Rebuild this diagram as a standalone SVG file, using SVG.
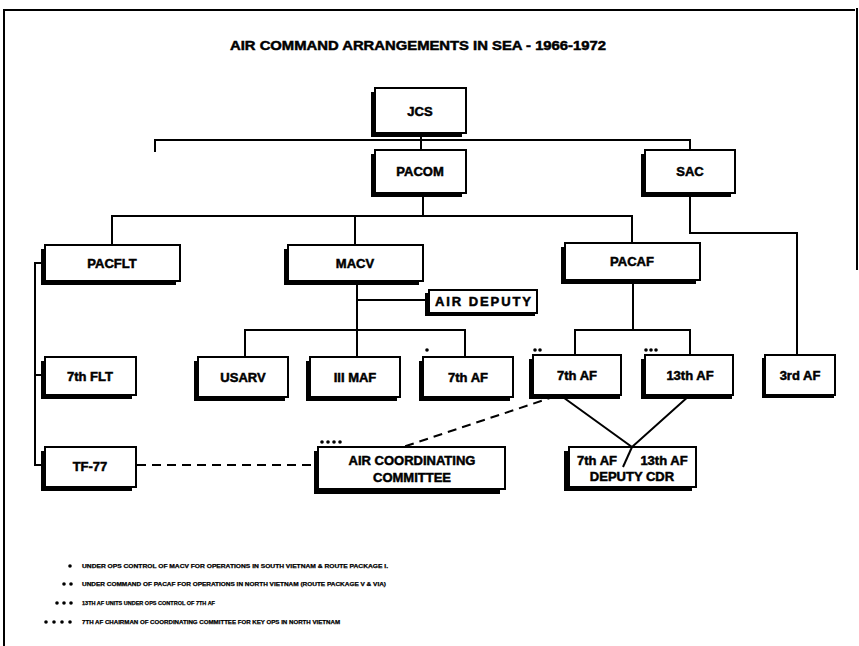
<svg xmlns="http://www.w3.org/2000/svg" width="859" height="646" viewBox="0 0 859 646">
<defs>
<style>
.sh{fill:#000}
.bx{fill:#fff;stroke:#000;stroke-width:2}
.t{font-family:"Liberation Sans",Arial,sans-serif;font-weight:bold;font-size:13px;fill:#000;stroke:#000;stroke-width:0.5;text-anchor:middle}
.ln{fill:none;stroke:#000;stroke-width:2}
.dl{fill:none;stroke:#000;stroke-width:2;stroke-dasharray:9,6}
.fn{font-family:"Liberation Sans",Arial,sans-serif;font-weight:bold;font-size:5.5px;fill:#000;stroke:#000;stroke-width:0.25}
.dot{fill:#000}
</style>
</defs>
<rect width="859" height="646" fill="#fff"/>
<g id="frame" fill="none" stroke="#000">
<path d="M4 646 V10 H855" stroke-width="2"/>
<path d="M857 8 V270" stroke-width="2"/>
</g>
<text x="418" y="50" class="t" font-size="14" textLength="376" lengthAdjust="spacingAndGlyphs">AIR COMMAND ARRANGEMENTS IN SEA - 1966-1972</text>

<g id="connectors">
<path class="ln" d="M421 133 V150"/>
<path class="ln" d="M155 152 V140 H690 V150"/>
<path class="ln" d="M423 193 V216"/>
<path class="ln" d="M112 245 V216 H632 V243"/>
<path class="ln" d="M355 216 V245"/>
<path class="ln" d="M690 193 V233 H797 V355"/>
<path class="ln" d="M45 263 H35 V465 H45"/>
<path class="ln" d="M35 375 H45"/>
<path class="ln" d="M357 280 V330"/>
<path class="ln" d="M357 300 H428"/>
<path class="ln" d="M245 357 V330 H465 V357"/>
<path class="ln" d="M357 330 V357"/>
<path class="ln" d="M633 280 V330"/>
<path class="ln" d="M575 355 V330 H690 V355"/>
<path class="ln" d="M560 395 L632 447 L690 395"/>
<path class="dl" d="M556 396 L400 448"/>
<path class="dl" d="M137 465 H316"/>
</g>

<g id="jcs"><rect class="sh" x="371" y="92" width="91" height="45"/><rect class="bx" x="375" y="88" width="91" height="45"/><text class="t" x="420" y="116">JCS</text></g>
<g id="pacom"><rect class="sh" x="371" y="154" width="91" height="43"/><rect class="bx" x="375" y="150" width="91" height="43"/><text class="t" x="420" y="176">PACOM</text></g>
<g id="sac"><rect class="sh" x="641" y="154" width="90" height="43"/><rect class="bx" x="645" y="150" width="90" height="43"/><text class="t" x="690" y="176">SAC</text></g>
<g id="pacflt"><rect class="sh" x="41" y="249" width="135" height="36"/><rect class="bx" x="45" y="245" width="135" height="36"/><text class="t" x="112" y="268">PACFLT</text></g>
<g id="macv"><rect class="sh" x="284" y="249" width="135" height="36"/><rect class="bx" x="288" y="245" width="135" height="36"/><text class="t" x="355" y="268">MACV</text></g>
<g id="pacaf"><rect class="sh" x="561" y="247" width="135" height="37"/><rect class="bx" x="565" y="243" width="135" height="37"/><text class="t" x="632" y="266">PACAF</text></g>
<g id="airdeputy"><rect class="sh" x="425" y="293" width="110" height="23"/><rect class="bx" x="429" y="290" width="108" height="23"/><text class="t" x="483" y="306" textLength="96" lengthAdjust="spacing">AIR  DEPUTY</text></g>
<g id="7thflt"><rect class="sh" x="41" y="361" width="91" height="38"/><rect class="bx" x="45" y="357" width="91" height="38"/><text class="t" x="90" y="381">7th  FLT</text></g>
<g id="usarv"><rect class="sh" x="194" y="361" width="91" height="40"/><rect class="bx" x="198" y="357" width="90" height="40"/><text class="t" x="243" y="382">USARV</text></g>
<g id="iiimaf"><rect class="sh" x="306" y="361" width="91" height="40"/><rect class="bx" x="310" y="357" width="90" height="40"/><text class="t" x="355" y="382">III MAF</text></g>
<g id="7thaf-macv"><rect class="sh" x="419" y="361" width="91" height="40"/><rect class="bx" x="423" y="357" width="90" height="40"/><text class="t" x="468" y="382">7th AF</text><circle class="dot" cx="427" cy="350" r="1.8"/></g>
<g id="7thaf-pacaf"><rect class="sh" x="529" y="359" width="91" height="40"/><rect class="bx" x="533" y="355" width="88" height="40"/><text class="t" x="577" y="380">7th AF</text><circle class="dot" cx="535" cy="350" r="1.8"/><circle class="dot" cx="540" cy="350" r="1.8"/></g>
<g id="13thaf"><rect class="sh" x="641" y="359" width="91" height="40"/><rect class="bx" x="645" y="355" width="88" height="40"/><text class="t" x="690" y="380">13th AF</text><circle class="dot" cx="646" cy="350" r="1.8"/><circle class="dot" cx="651" cy="350" r="1.8"/><circle class="dot" cx="656" cy="350" r="1.8"/></g>
<g id="3rdaf"><rect class="sh" x="762" y="358" width="72" height="40"/><rect class="bx" x="765" y="355" width="70" height="40"/><text class="t" x="800" y="380">3rd AF</text></g>
<g id="tf77"><rect class="sh" x="41" y="451" width="91" height="40"/><rect class="bx" x="45" y="447" width="91" height="40"/><text class="t" x="90" y="471">TF-77</text></g>
<g id="acc"><rect class="sh" x="314" y="451" width="186" height="43"/><rect class="bx" x="318" y="447" width="187" height="42"/><text class="t" x="412" y="465" font-size="14">AIR COORDINATING</text><text class="t" x="412" y="482" font-size="14">COMMITTEE</text><circle class="dot" cx="322" cy="442" r="1.8"/><circle class="dot" cx="328" cy="442" r="1.8"/><circle class="dot" cx="334" cy="442" r="1.8"/><circle class="dot" cx="340" cy="442" r="1.8"/></g>
<g id="deputycdr"><rect class="sh" x="564" y="451" width="128" height="40"/><rect class="bx" x="569" y="447" width="127" height="40"/><text class="t" x="597" y="465" font-size="14">7th AF</text><text class="t" x="664" y="465" font-size="14">13th AF</text><text class="t" x="632" y="481" font-size="14">DEPUTY CDR</text><path class="ln" d="M632 447 L623 467"/></g>

<g id="notes">
<circle class="dot" cx="70" cy="566" r="1.8"/>
<text class="fn" x="82" y="568" textLength="306" lengthAdjust="spacingAndGlyphs">UNDER OPS CONTROL OF MACV FOR OPERATIONS IN SOUTH VIETNAM &amp; ROUTE PACKAGE I.</text>
<circle class="dot" cx="64" cy="584" r="1.8"/><circle class="dot" cx="71" cy="584" r="1.8"/>
<text class="fn" x="82" y="586" textLength="304" lengthAdjust="spacingAndGlyphs">UNDER COMMAND OF PACAF FOR OPERATIONS IN NORTH VIETNAM (ROUTE PACKAGE V &amp; VIA)</text>
<circle class="dot" cx="57" cy="603" r="1.8"/><circle class="dot" cx="64" cy="603" r="1.8"/><circle class="dot" cx="71" cy="603" r="1.8"/>
<text class="fn" x="82" y="605" textLength="133" lengthAdjust="spacingAndGlyphs">13TH AF UNITS UNDER OPS CONTROL OF 7TH AF</text>
<circle class="dot" cx="46" cy="622" r="1.8"/><circle class="dot" cx="54" cy="622" r="1.8"/><circle class="dot" cx="62" cy="622" r="1.8"/><circle class="dot" cx="70" cy="622" r="1.8"/>
<text class="fn" x="82" y="624" textLength="258" lengthAdjust="spacingAndGlyphs">7TH AF CHAIRMAN OF COORDINATING COMMITTEE FOR KEY OPS IN NORTH VIETNAM</text>
</g>
</svg>
